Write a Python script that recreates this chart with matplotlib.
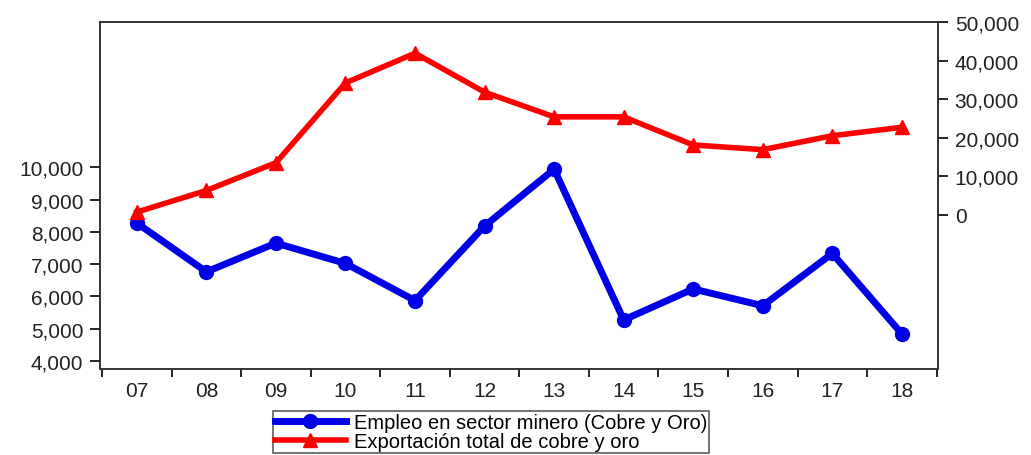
import matplotlib
matplotlib.use('Agg')
import matplotlib.pyplot as plt
from matplotlib.ticker import FuncFormatter

plt.rcParams['font.family'] = ['Liberation Sans', 'DejaVu Sans']

years = ['07', '08', '09', '10', '11', '12', '13', '14', '15', '16', '17', '18']
empleo = [8270, 6760, 7650, 7020, 5870, 8180, 9940, 5270, 6230, 5710, 7330, 4840]
exportacion = [700, 6300, 13500, 34200, 41900, 31800, 25400, 25400, 18100, 16900, 20500, 22700]

left_ticks = [4000, 5000, 6000, 7000, 8000, 9000, 10000]
right_ticks = [0, 10000, 20000, 30000, 40000, 50000]

fig = plt.figure(figsize=(10.31, 4.56), dpi=100)
ax = fig.add_axes([100 / 1031, 1 - 370 / 456, 838 / 1031, 347 / 456])
ax2 = ax.twinx()

x = list(range(len(years)))
l1, = ax.plot(x, empleo, color='#0000e6', lw=5, marker='o', markersize=10,
              label='Empleo en sector minero (Cobre y Oro)', zorder=3)
l2, = ax2.plot(x, exportacion, color='#ff0000', lw=4, marker='^', markersize=10,
               label='Exportación total de cobre y oro', zorder=3)

ax.set_xlim(-0.53, 11.52)
ax.set_ylim(3750, 14500)
ax2.set_ylim(-40000, 50000)

fmt = FuncFormatter(lambda v, p: f'{int(v):,}')
ax.set_yticks(left_ticks)
ax.yaxis.set_major_formatter(fmt)
ax2.set_yticks(right_ticks)
ax2.yaxis.set_major_formatter(fmt)

ax.set_xticks(x)
ax.set_xticklabels(years)
ax.set_xticks([i + 0.5 for i in range(-1, len(years))], minor=True)
ax.tick_params(axis='x', which='major', length=0, pad=9, labelsize=15, colors='#222222')
ax.tick_params(axis='x', which='minor', length=6, width=1.2, direction='out')
ax.tick_params(axis='y', length=7, width=1.2, labelsize=15, labelcolor='#222222', pad=5)
ax2.tick_params(axis='y', length=7, width=1.2, labelsize=15, labelcolor='#222222', pad=5)

for a in (ax, ax2):
    for s in a.spines.values():
        s.set_linewidth(1.2)
        s.set_color('#333333')

leg = fig.legend(handles=[l1, l2], loc='upper left',
                 bbox_to_anchor=(273 / 1031, 1 - 412 / 456),
                 fontsize=14.5, frameon=True, fancybox=False, edgecolor='#333333',
                 handlelength=3.5, labelspacing=0.0, borderpad=0.1,
                 handletextpad=0.4, borderaxespad=0)
leg.get_frame().set_linewidth(1.2)

fig.savefig('out.png', dpi=100)
